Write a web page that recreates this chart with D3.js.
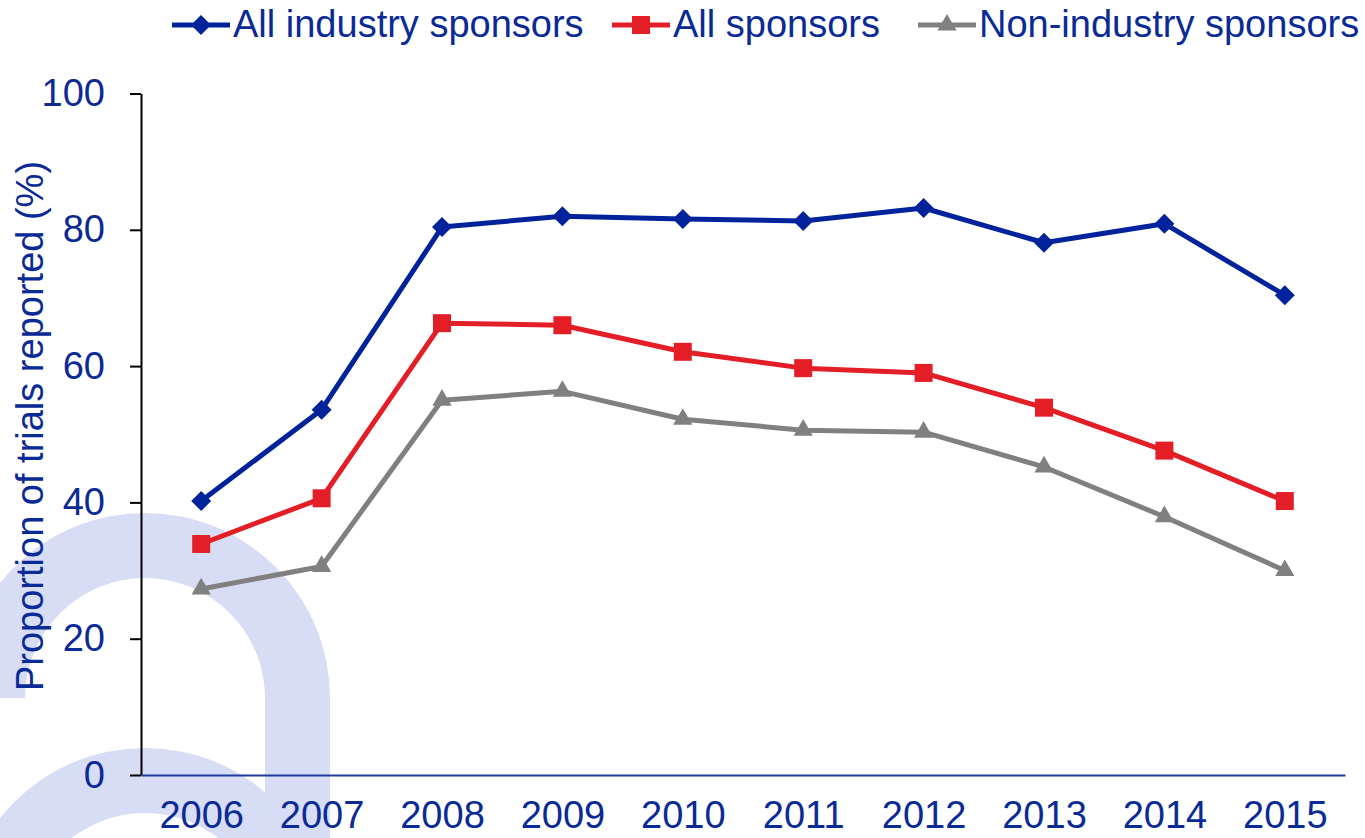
<!DOCTYPE html>
<html>
<head>
<meta charset="utf-8">
<script src="https://cdn.jsdelivr.net/npm/d3@7"></script>
<style>
  body { margin: 0; background: #fff; }
  svg { display: block; font-family: "Liberation Sans", Arial, sans-serif; }
</style>
</head>
<body>
<script>
// data
var years = ["2006", "2007", "2008", "2009", "2010", "2011", "2012", "2013", "2014", "2015"];
var industry = [40.2, 53.6, 80.4, 82.0, 81.6, 81.3, 83.2, 78.1, 80.9, 70.4];
var allSponsors = [33.9, 40.6, 66.3, 66.0, 62.1, 59.7, 59.0, 53.9, 47.6, 40.2];
var nonIndustry = [27.3, 30.6, 55.0, 56.3, 52.2, 50.6, 50.3, 45.2, 37.9, 30.0];
var yTicks = [0, 20, 40, 60, 80, 100];
var seriesNames = ["All industry sponsors", "All sponsors", "Non-industry sponsors"];

var width = 1365, height = 838;
var textColor = "#0a2a96";

var series = [
  { name: seriesNames[0], values: industry, color: "#00239c", shape: "diamond" },
  { name: seriesNames[1], values: allSponsors, color: "#e31e26", shape: "square" },
  { name: seriesNames[2], values: nonIndustry, color: "#808080", shape: "triangle" }
];

var svg = d3.select("body").append("svg").attr("width", width).attr("height", height);

// 背景水印
var wm = svg.append("g").attr("fill", "#d7ddf4");
var ring = d3.arc().innerRadius(120).outerRadius(185).startAngle(-Math.PI / 2).endAngle(Math.PI / 2);
wm.append("path").attr("d", ring()).attr("transform", "translate(145,698)");
wm.append("rect").attr("x", 265).attr("y", 697).attr("width", 65).attr("height", height - 697);
wm.append("path").attr("d", ring()).attr("transform", "translate(145,933)");

// scales
var x = d3.scalePoint().domain(years).range([141, 1345]).padding(0.5);
var y = d3.scaleLinear().domain([0, 100]).range([775, 93.5]);

// y axis
var yAxis = svg.append("g").attr("transform", "translate(141,0)")
  .call(d3.axisLeft(y).tickValues(yTicks).tickSize(11).tickPadding(25).tickSizeOuter(0));
yAxis.select(".domain").attr("stroke", "#000").attr("stroke-width", 2);
yAxis.selectAll(".tick line").attr("stroke", "#000").attr("stroke-width", 2);
yAxis.selectAll(".tick text").attr("fill", textColor).attr("font-size", 38)
  .attr("font-family", "Liberation Sans, Arial, sans-serif");

// x axis
var xAxis = svg.append("g").attr("transform", "translate(0,775)")
  .call(d3.axisBottom(x).tickSize(0).tickPadding(26).tickSizeOuter(0));
xAxis.select(".domain").attr("stroke", "#1f3a9a").attr("stroke-width", 2);
xAxis.selectAll(".tick text").attr("fill", textColor).attr("font-size", 38)
  .attr("font-family", "Liberation Sans, Arial, sans-serif");

// y label
svg.append("text")
  .attr("transform", "translate(43,426) rotate(-90)")
  .attr("text-anchor", "middle")
  .attr("fill", textColor)
  .attr("font-size", 38)
  .text("Proportion of trials reported (%)");

function symbolFor(shape) {
  if (shape === "diamond") return { path: d3.symbol().type(d3.symbolSquare).size(200)(), rot: 45 };
  if (shape === "square") return { path: d3.symbol().type(d3.symbolSquare).size(324)(), rot: 0 };
  return { path: d3.symbol().type(d3.symbolTriangle).size(160)(), rot: 0 };
}

var line = d3.line()
  .x(function (d, i) { return x(years[i]); })
  .y(function (d) { return y(d); });

series.forEach(function (s) {
  svg.append("path")
    .attr("d", line(s.values))
    .attr("fill", "none")
    .attr("stroke", s.color)
    .attr("stroke-width", 5)
    .attr("stroke-linejoin", "round");
  var sym = symbolFor(s.shape);
  svg.selectAll(null).data(s.values).enter().append("path")
    .attr("d", sym.path)
    .attr("fill", s.color)
    .attr("transform", function (d, i) {
      return "translate(" + x(years[i]) + "," + y(d) + ") rotate(" + sym.rot + ")";
    });
});

// legend
var legendPos = [172, 612, 918];
series.forEach(function (s, i) {
  var g = svg.append("g").attr("transform", "translate(" + legendPos[i] + ",25)");
  g.append("line").attr("x1", 0).attr("x2", 58).attr("y1", 0).attr("y2", 0)
    .attr("stroke", s.color).attr("stroke-width", 5);
  var sym = symbolFor(s.shape);
  g.append("path").attr("d", sym.path).attr("fill", s.color)
    .attr("transform", "translate(29,0) rotate(" + sym.rot + ")");
  g.append("text").attr("x", 61).attr("y", 12).attr("fill", textColor)
    .attr("font-size", 38).text(s.name);
});
</script>
</body>
</html>
